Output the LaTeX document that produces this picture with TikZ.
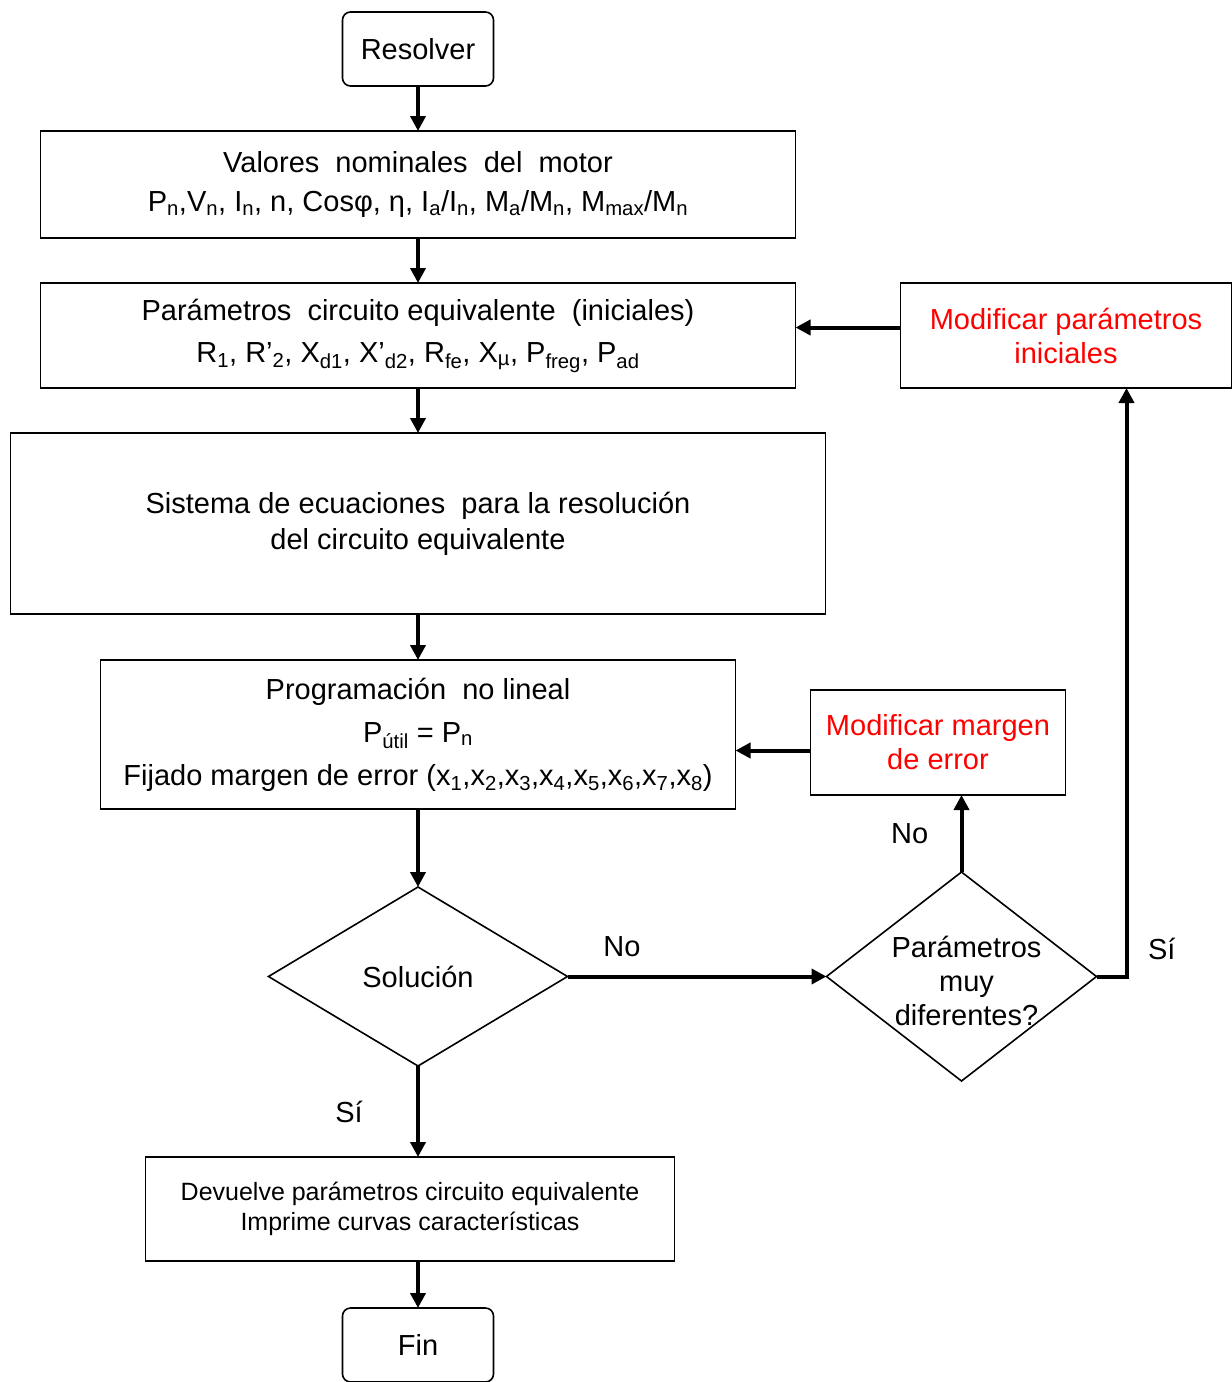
\documentclass[tikz,border=0pt]{standalone}
\usepackage{fontspec}
\setmainfont{Liberation Sans}
\usetikzlibrary{positioning,shapes.geometric,arrows.meta}

\begin{document}
\begin{tikzpicture}[
    x=1pt,y=1pt,
    >={Triangle[length=15pt,width=15pt]},
    every node/.style={font=\fontsize{29}{36}\selectfont},
    box/.style={draw,line width=1.6pt,inner sep=0pt,outer sep=0pt,align=center},
    endbox/.style={box,rounded corners=8pt,minimum width=151pt,minimum height=74pt},
    fixbox/.style={box,text=red,font=\fontsize{29}{34}\selectfont},
    decision/.style={draw,diamond,line width=1.6pt,inner sep=0pt,outer sep=0pt},
    flow/.style={->,line width=4pt}
]
\useasboundingbox (0,0) rectangle (1232,-1382);

% Main column
\node[endbox] (res) at (418,-49) {Resolver};

\node[box,below=45pt of res,minimum width=755pt,minimum height=107pt,
      font=\fontsize{29}{39}\selectfont] (val)
  {Valores\ \ nominales\ \ del\ \ motor\\
   P\textsubscript{n},V\textsubscript{n}, I\textsubscript{n}, n, Cosφ,\ η,\
   I\textsubscript{a}/I\textsubscript{n}, M\textsubscript{a}/M\textsubscript{n},\
   M\textsubscript{max}/M\textsubscript{n}};

\node[box,below=45pt of val,minimum width=755pt,minimum height=105pt,
      font=\fontsize{29}{42}\selectfont] (par)
  {Parámetros\ \ circuito equivalente\ \ (iniciales)\\
   R\textsubscript{1}, R’\textsubscript{2},\ X\textsubscript{d1},\ X’\textsubscript{d2},\
   R\textsubscript{fe},\ X\textsubscript{µ},\ P\textsubscript{freg},\ P\textsubscript{ad}};

\node[box,below=45pt of par,minimum width=815pt,minimum height=181pt] (sis)
  {Sistema de ecuaciones\ \ para la resolución\\del circuito equivalente};

\node[box,below=46pt of sis,minimum width=635pt,minimum height=149pt,
      font=\fontsize{29}{43}\selectfont] (prog)
  {Programación\ \ no lineal\\
   P\textsubscript{útil} = P\textsubscript{n}\\
   Fijado margen de error (x\textsubscript{1},x\textsubscript{2},x\textsubscript{3},x\textsubscript{4},x\textsubscript{5},x\textsubscript{6},x\textsubscript{7},x\textsubscript{8})};

\node[decision,below=78pt of prog,minimum width=299pt,minimum height=179pt] (sol) {Solución};

\node[box,below=91pt of sol,xshift=-8pt,minimum width=529pt,minimum height=104pt,
      font=\fontsize{25}{30}\selectfont] (dev)
  {Devuelve parámetros circuito equivalente\\Imprime curvas características};

\node[endbox,below=47pt of dev,xshift=8pt] (fin) {Fin};

% Correction loops
\node[fixbox,right=105pt of par,minimum width=331pt,minimum height=105pt] (modpar)
  {Modificar parámetros\\iniciales};
\node[fixbox,right=75pt of prog,yshift=-8pt,minimum width=255pt,minimum height=105pt] (modmar)
  {Modificar margen\\de error};
\node[decision,right=259pt of sol,minimum width=270pt,minimum height=209pt] (dif) {};
\node[align=center,font=\fontsize{29}{34}\selectfont] (diftxt) at ([xshift=5pt,yshift=-4pt]dif.center)
  {Parámetros\\muy\\diferentes?};

% Arrows
\draw[flow] (res) -- (val);
\draw[flow] (val) -- (par);
\draw[flow] (par) -- (sis);
\draw[flow] (sis) -- (prog);
\draw[flow] (prog) -- (sol);
\draw[flow] (sol.south) -- (sol.south |- dev.north) node[midway,left=50pt] (si1) {Sí};
\draw[flow] (fin.north |- dev.south) -- (fin.north);

\draw[flow] (sol.east) -- (dif.west) node[pos=0.21,above=14pt] (no1) {No};
\draw[flow] (dif.north) -- (dif.north |- modmar.south) node[midway,left=28pt] (no2) {No};
\draw[flow] ([yshift=-8pt]modmar.west) -- ([yshift=-8pt]modmar.west -| prog.east);

\coordinate[right=30pt of dif.east] (turn);
\draw[flow] (dif.east) -- (turn) -- (turn |- modpar.south);
\node[right=18pt of turn,yshift=28pt] (si2) {Sí};
\draw[flow] ([yshift=8pt]modpar.west) -- ([yshift=8pt]modpar.west -| par.east);

\end{tikzpicture}
\end{document}
